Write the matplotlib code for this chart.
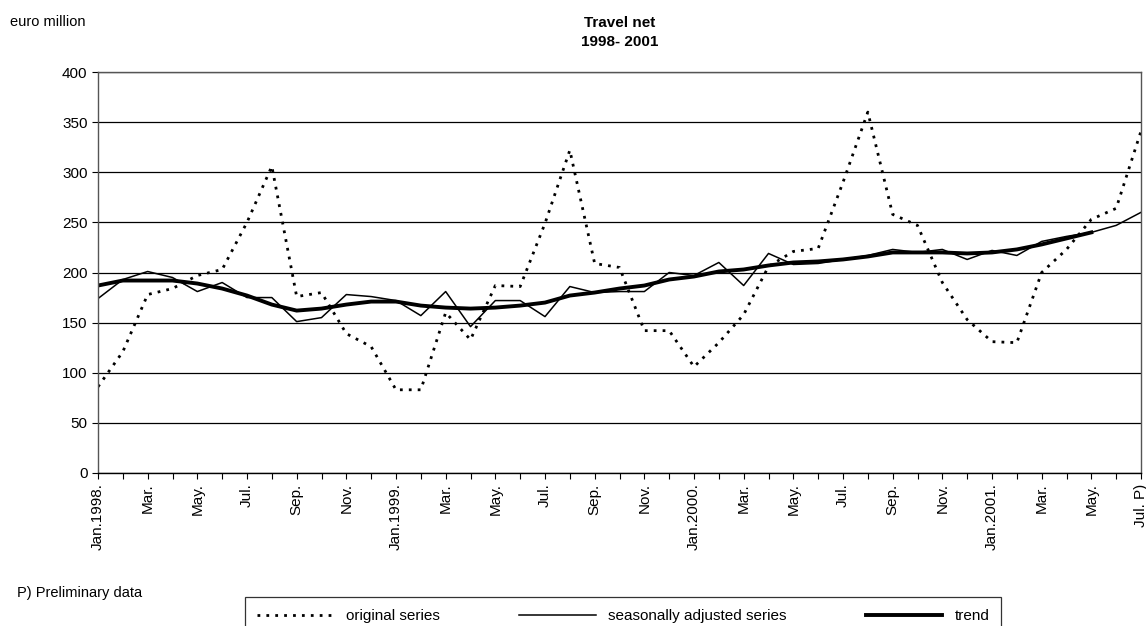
import numpy as np
import matplotlib.pyplot as plt
from matplotlib.lines import Line2D

plt.rcParams['font.family'] = ['Liberation Sans', 'DejaVu Sans']

# monthly data, Jan 1998 .. Jul 2001 (euro million)
original = [86, 121, 178, 184, 197, 203, 250, 306, 176, 180, 139, 126,
            83, 83, 160, 133, 187, 186, 249, 322, 209, 205, 142, 142,
            106, 130, 158, 206, 221, 224, 290, 360, 258, 247, 190, 153,
            131, 130, 200, 223, 253, 264, 341]
seas_adj = [174, 193, 201, 195, 181, 190, 175, 175, 151, 155, 178, 176,
            172, 157, 181, 146, 172, 172, 156, 186, 180, 181, 181, 200,
            197, 210, 187, 219, 208, 209, 213, 217, 223, 220, 223, 213,
            222, 217, 231, 236, 240, 247, 260]
trend = [187, 192, 192, 192, 189, 184, 177, 168, 162, 164, 168, 171,
         171, 167, 165, 164, 165, 167, 170, 177, 180, 184, 187, 193,
         196, 201, 203, 207, 210, 211, 213, 216, 220, 220, 220, 219,
         220, 223, 228, 234, 240]

tick_labels = ['Jan.1998.', 'Mar.', 'May.', 'Jul.', 'Sep.', 'Nov.',
               'Jan.1999.', 'Mar.', 'May.', 'Jul.', 'Sep.', 'Nov.',
               'Jan.2000.', 'Mar.', 'May.', 'Jul.', 'Sep.', 'Nov.',
               'Jan.2001.', 'Mar.', 'May.', 'Jul. P)']

x = np.arange(len(original))

fig = plt.figure(figsize=(11.46, 6.26), dpi=100)
ax = fig.add_axes([98/1146, 153/626, 1043/1146, 401/626])

ax.plot(x, original, color='k', lw=2.0, ls=(0, (1, 2.2)))
ax.plot(x, seas_adj, color='k', lw=1.1)
ax.plot(np.arange(len(trend)), trend, color='k', lw=2.8)

ax.set_xlim(0, len(original) - 1)
ax.set_ylim(0, 400)
ax.set_yticks(np.arange(0, 401, 50))
ax.yaxis.grid(True, color='k', lw=0.9)
ax.set_axisbelow(True)

ax.set_xticks(x, minor=True)
ax.set_xticks(x[::2])
ax.set_xticklabels(tick_labels, rotation=90, fontsize=11)
ax.tick_params(axis='x', which='both', direction='out', length=4, width=0.8)
ax.tick_params(axis='y', direction='out', length=4, width=0.8, labelsize=11)

for s in ax.spines.values():
    s.set_color('#555555')
    s.set_linewidth(1.0)
ax.spines['bottom'].set_color('k')

fig.text(ax.get_position().x0 + ax.get_position().width / 2, 0.975,
         'Travel net\n1998- 2001', ha='center', va='top',
         fontsize=11, fontweight='bold', linespacing=1.5)
fig.text(0.009, 0.965, 'euro million', ha='left', va='center', fontsize=10.5)
fig.text(0.015, 1 - 593/626, 'P) Preliminary data', ha='left', va='center', fontsize=10.5)

handles = [Line2D([], [], color='k', lw=2.0, ls=(0, (1, 2.2))),
           Line2D([], [], color='k', lw=1.1),
           Line2D([], [], color='k', lw=2.8)]
leg = fig.legend(handles, ['original series', 'seasonally adjusted series', 'trend'],
                 loc='upper left', bbox_to_anchor=(245/1146, 1 - 597/626),
                 bbox_transform=fig.transFigure, ncol=3, fontsize=11,
                 handlelength=5.0, handletextpad=0.8, columnspacing=5.2,
                 frameon=True, fancybox=False, borderaxespad=0, borderpad=0.8)
leg.get_frame().set_edgecolor('k')
leg.get_frame().set_linewidth(0.9)

fig.savefig('out.png', dpi=100)
